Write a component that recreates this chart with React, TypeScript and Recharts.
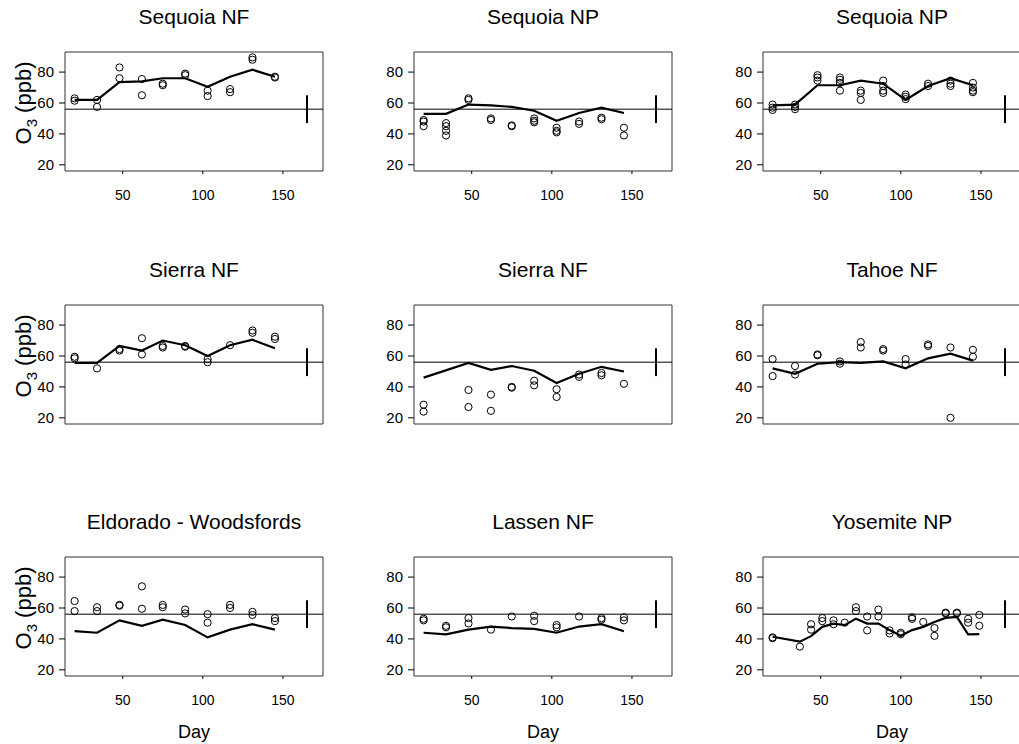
import React from 'react';
import {
  ComposedChart,
  Line,
  Scatter,
  XAxis,
  YAxis,
  ReferenceLine,
  ReferenceArea
} from 'recharts';

// sampling days shared by the first eight sites
const days = [20, 34, 48, 62, 75, 89, 103, 117, 131, 145];
const yosemiteDays = [20, 37, 44, 51, 58, 65, 72, 79, 86, 93, 100, 107, 114, 121, 128, 135, 142, 149];

const xTicks = [50, 100, 150];
const yTicks = [20, 40, 60, 80];
const xDomain = [14, 175];
const yDomain = [16, 93];

// standard line and the bar on the right
const standard = 56;
const barDay = 165;
const barLow = 47;
const barHigh = 65;

const titles = [
  'Sequoia NF', 'Sequoia NP', 'Sequoia NP',
  'Sierra NF', 'Sierra NF', 'Tahoe NF',
  'Eldorado - Woodsfords', 'Lassen NF', 'Yosemite NP'
];

// model line (one value per day) and observed values (a list per day)
const seqNfLine = [62, 62, 73.5, 74, 76, 76, 70.5, 77, 81.5, 77];
const seqNfObs = [[63, 61.5], [62, 57.5], [83, 76], [75.5, 65], [72.5, 71.5], [79, 78], [68, 64.5], [69, 67], [89.5, 88], [77, 76.5]];

const seqNp1Line = [53, 53, 59, 58.5, 57.5, 55, 48.5, 53.5, 57, 53.5];
const seqNp1Obs = [[49, 48, 45], [47, 45, 42, 39], [63, 62], [50, 49], [45.5, 45], [50, 48.5, 47.5], [44, 42, 41], [48, 46.5], [50.5, 49.5], [44, 39]];

const seqNp2Line = [58.5, 59, 71.5, 71.5, 74.5, 72.5, 62, 71, 76, 71.5];
const seqNp2Obs = [[59, 57, 55.5], [59, 57.5, 56], [78, 76.5, 74.5], [76.5, 75, 73, 68], [68, 66.5, 62], [74.5, 71, 68, 66.5], [65.5, 64, 62.5], [72.5, 71], [74.5, 72.5, 71], [73, 70, 68, 67]];

const sierra1Line = [55.5, 55.5, 66.5, 63.5, 70, 67, 60, 67, 70.5, 65];
const sierra1Obs = [[59.5, 58.5], [52], [64.5, 63.5], [71.5, 61], [66.5, 65.5], [66.5, 66], [58, 56], [67], [76.5, 75], [72.5, 71]];

const sierra2Line = [46, null, 55.5, 51, 53.5, 50.5, 42.5, 48.5, 53, 50];
const sierra2Obs = [[28.5, 24], [], [38, 27], [35, 24.5], [40, 39.5], [44, 41], [38.5, 33.5], [48, 46.5], [49, 47.5], [42]];

const tahoeLine = [52, 48.5, 55, 56, 55.5, 56.5, 52, 58.5, 61.5, 57];
const tahoeObs = [[58, 47], [53.5, 48], [61, 60.5], [56.5, 55], [69, 65.5], [64.5, 63.5], [58, 54.5], [67.5, 66.5], [65.5, 20], [64, 59.5]];

const eldoradoLine = [45, 44, 52, 48.5, 52.5, 49, 41, 46, 49.5, 46];
const eldoradoObs = [[64.5, 58], [60.5, 58], [62, 61.5], [74, 59.5], [62, 60.5], [59, 56.5], [56, 50.5], [62, 60], [57.5, 55.5], [53.5, 51.5]];

const lassenLine = [44, 43, 46, 48, 47, 46.5, 44, 48, 49.5, 45];
const lassenObs = [[53, 52], [48.5, 47.5], [53.5, 50], [46], [54.5], [55, 51.5], [49, 47.5], [54.5], [53.5, 52.5], [54, 52]];

const yosemiteLine = [41.4, 38.2, 41.8, 47.8, 49.9, 48.9, 53.1, 49.9, 49.9, 45.7, 42, 45.7, 47.8, 51, 53.6, 54.2, 42.9, 43.1];
const yosemiteObs = [[41, 40.5], [35], [49.5, 46], [53.5, 51.5], [52, 49.5], [50.5], [60.5, 58], [54.5, 45.5], [59, 54.5], [45.5, 43.5], [44, 43], [54, 53], [51], [47, 42], [57, 56.5], [57, 56.5], [53, 50.5], [55.5, 48.5]];

const series = [
  { d: days, line: seqNfLine, obs: seqNfObs },
  { d: days, line: seqNp1Line, obs: seqNp1Obs },
  { d: days, line: seqNp2Line, obs: seqNp2Obs },
  { d: days, line: sierra1Line, obs: sierra1Obs },
  { d: days, line: sierra2Line, obs: sierra2Obs },
  { d: days, line: tahoeLine, obs: tahoeObs },
  { d: days, line: eldoradoLine, obs: eldoradoObs },
  { d: days, line: lassenLine, obs: lassenObs },
  { d: yosemiteDays, line: yosemiteLine, obs: yosemiteObs }
];

// layout of the plot boxes
const colLeft = [65, 414, 763];
const rowTop = [52, 305, 557];
const boxW = 258;
const boxH = 119;
const yAxisW = 60;
const xAxisH = 35;
const mTop = 8;
const mRight = 8;

const font = '"Liberation Sans", Arial, Helvetica, sans-serif';

const OpenCircle = (props: any) => (
  <circle cx={props.cx} cy={props.cy} r={3.6} fill="none" stroke="#000" strokeWidth={1} />
);

const Panel = ({ idx }: { idx: number }) => {
  const col = idx % 3;
  const row = Math.floor(idx / 3);
  const s = series[idx];
  const lineData = s.d.map((day, i) => ({ day, o3: s.line[i] }));
  const obsData = s.d.flatMap((day, i) => s.obs[i].map((v) => ({ day, o3: v })));
  const showXLabels = row !== 1;

  return (
    <div style={{ position: 'absolute', left: colLeft[col] - yAxisW, top: rowTop[row] - mTop }}>
      <ComposedChart
        width={yAxisW + boxW + mRight}
        height={mTop + boxH + xAxisH}
        margin={{ top: mTop, right: mRight, bottom: 0, left: 0 }}
      >
        <XAxis
          type="number"
          dataKey="day"
          domain={xDomain}
          ticks={xTicks}
          allowDataOverflow
          height={xAxisH}
          axisLine={false}
          tickSize={3}
          tickMargin={16}
          tickLine={{ stroke: '#000' }}
          tick={showXLabels ? { fontSize: 14, fill: '#000' } : false}
        />
        <YAxis
          type="number"
          domain={yDomain}
          ticks={yTicks}
          allowDataOverflow
          width={yAxisW}
          axisLine={false}
          tickSize={6}
          tickMargin={5}
          tickLine={{ stroke: '#000' }}
          tick={{ fontSize: 15, fill: '#000' }}
        />
        <ReferenceArea
          x1={xDomain[0]}
          x2={xDomain[1]}
          y1={yDomain[0]}
          y2={yDomain[1]}
          fill="none"
          fillOpacity={0}
          stroke="#333"
          strokeWidth={1}
        />
        <ReferenceLine y={standard} stroke="#000" strokeWidth={1} />
        <ReferenceLine
          segment={[{ x: barDay, y: barLow }, { x: barDay, y: barHigh }]}
          stroke="#000"
          strokeWidth={2}
        />
        <Line
          data={lineData}
          dataKey="o3"
          type="linear"
          stroke="#000"
          strokeWidth={2.2}
          dot={false}
          connectNulls
          isAnimationActive={false}
        />
        <Scatter data={obsData} dataKey="o3" shape={OpenCircle} isAnimationActive={false} />
      </ComposedChart>
    </div>
  );
};

export default function App() {
  return (
    <div
      style={{
        position: 'absolute',
        left: 0,
        top: 0,
        width: 1019,
        height: 744,
        overflow: 'hidden',
        background: '#fff',
        fontFamily: font
      }}
    >
      {titles.map((_, i) => (
        <Panel key={i} idx={i} />
      ))}
      <svg width={1019} height={744} style={{ position: 'absolute', left: 0, top: 0, pointerEvents: 'none' }}>
        {titles.map((t, i) => (
          <text
            key={t + i}
            x={colLeft[i % 3] + boxW / 2}
            y={rowTop[Math.floor(i / 3)] - 28}
            textAnchor="middle"
            fontSize={21}
            fontFamily={font}
            fill="#000"
          >
            {t}
          </text>
        ))}
        {rowTop.map((top) => (
          <text
            key={'o3' + top}
            transform={`translate(31, ${top + 51}) rotate(-90)`}
            textAnchor="middle"
            fontSize={22}
            fontFamily={font}
            fill="#000"
          >
            O<tspan fontSize={15} dy={6}>3</tspan>
            <tspan dy={-6}> (ppb)</tspan>
          </text>
        ))}
        {colLeft.map((left) => (
          <text
            key={'day' + left}
            x={left + boxW / 2}
            y={738}
            textAnchor="middle"
            fontSize={18}
            fontFamily={font}
            fill="#000"
          >
            Day
          </text>
        ))}
      </svg>
    </div>
  );
}
